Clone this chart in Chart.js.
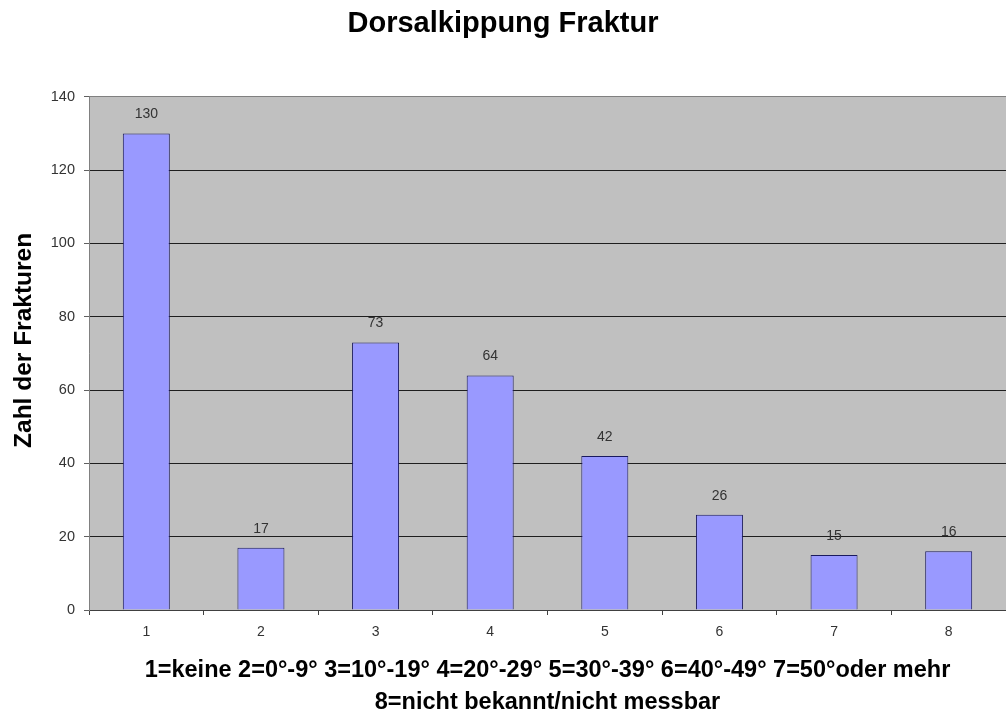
<!DOCTYPE html>
<html lang="de">
<head>
<meta charset="utf-8">
<title>Dorsalkippung Fraktur</title>
<script src="https://cdn.jsdelivr.net/npm/chart.js@4/dist/chart.umd.min.js"></script>
<style>
  html, body { margin: 0; padding: 0; background: #ffffff; }
  canvas { display: block; }
</style>
</head>
<body>
<canvas id="chart" width="1006" height="720"></canvas>
<script>
// Categories of dorsal tilt (1..8) and the number of fractures in each
const categories = ['1', '2', '3', '4', '5', '6', '7', '8'];
const fractureCounts = [130, 17, 73, 64, 42, 26, 15, 16];
const yTickValues = [0, 20, 40, 60, 80, 100, 120, 140];

const chartTitle = 'Dorsalkippung Fraktur';
const yAxisTitle = 'Zahl der Frakturen';
const xAxisTitle = [
  '1=keine 2=0°-9° 3=10°-19° 4=20°-29° 5=30°-39° 6=40°-49° 7=50°oder mehr',
  '8=nicht bekannt/nicht messbar'
];

const FONT = "'Liberation Sans', Arial, sans-serif";

// Grey plot background behind the bars
const plotBackground = {
  id: 'plotBackground',
  beforeDraw(chart) {
    const { ctx, chartArea: a } = chart;
    ctx.save();
    ctx.fillStyle = '#c0c0c0';
    ctx.fillRect(a.left, a.top, a.right - a.left, a.bottom - a.top);
    ctx.restore();
  }
};

// Value printed above each bar
const barValueLabels = {
  id: 'barValueLabels',
  afterDatasetsDraw(chart) {
    const { ctx } = chart;
    const meta = chart.getDatasetMeta(0);
    const values = chart.data.datasets[0].data;
    ctx.save();
    ctx.font = '14px ' + FONT;
    ctx.fillStyle = '#333333';
    ctx.textAlign = 'center';
    ctx.textBaseline = 'alphabetic';
    meta.data.forEach((bar, i) => {
      ctx.fillText(String(values[i]), bar.x, bar.y - 15);
    });
    ctx.restore();
  }
};

// Vertical y-axis title, placed in the left margin a little above the plot's middle
const yTitleLabel = {
  id: 'yTitleLabel',
  afterDraw(chart) {
    const { ctx, chartArea: a } = chart;
    ctx.save();
    ctx.translate(24.5, (a.top + a.bottom) / 2 - 13);
    ctx.rotate(-Math.PI / 2);
    ctx.font = 'bold 24.5px ' + FONT;
    ctx.fillStyle = '#000000';
    ctx.textAlign = 'center';
    ctx.textBaseline = 'middle';
    ctx.fillText(yAxisTitle, 0, 0);
    ctx.restore();
  }
};

new Chart(document.getElementById('chart'), {
  type: 'bar',
  data: {
    labels: categories,
    datasets: [{
      data: fractureCounts,
      backgroundColor: '#9999ff',
      borderColor: '#1a1a5e',
      borderWidth: 1,
      categoryPercentage: 1.0,
      barPercentage: 0.41
    }]
  },
  options: {
    responsive: false,
    animation: false,
    devicePixelRatio: 1,
    layout: { padding: { left: 0, right: 0, top: 0, bottom: 0 } },
    plugins: {
      legend: { display: false },
      tooltip: { enabled: false },
      title: {
        display: true,
        text: chartTitle,
        color: '#000000',
        font: { family: FONT, size: 29, weight: 'bold', lineHeight: 1.2 },
        padding: { top: 7, bottom: 55 }
      }
    },
    scales: {
      x: {
        offset: true,
        afterFit(scale) { scale.height = 110; },
        border: { display: true, color: '#404040', width: 1 },
        grid: {
          display: true,
          offset: true,
          drawOnChartArea: false,
          drawTicks: true,
          tickLength: 5,
          tickColor: '#404040'
        },
        ticks: {
          color: '#333333',
          padding: 9,
          font: { family: FONT, size: 14 }
        },
        title: {
          display: true,
          text: xAxisTitle,
          color: '#000000',
          font: { family: FONT, size: 23.5, weight: 'bold', lineHeight: 1.38 },
          padding: { top: 0, bottom: 1 }
        }
      },
      y: {
        min: 0,
        max: 140,
        afterFit(scale) { scale.width = 89; },
        afterBuildTicks(scale) {
          scale.ticks = yTickValues.map(v => ({ value: v }));
        },
        border: { display: true, color: '#808080', width: 1 },
        grid: {
          display: true,
          drawTicks: true,
          tickLength: 5,
          tickColor: '#606060',
          lineWidth: 1,
          color(ctx) {
            return ctx.tick && ctx.tick.value === 140 ? '#808080' : '#1e1e1e';
          }
        },
        ticks: {
          color: '#333333',
          padding: 9,
          font: { family: FONT, size: 14.5 }
        },
        title: { display: false }
      }
    }
  },
  plugins: [plotBackground, barValueLabels, yTitleLabel]
});
</script>
</body>
</html>
